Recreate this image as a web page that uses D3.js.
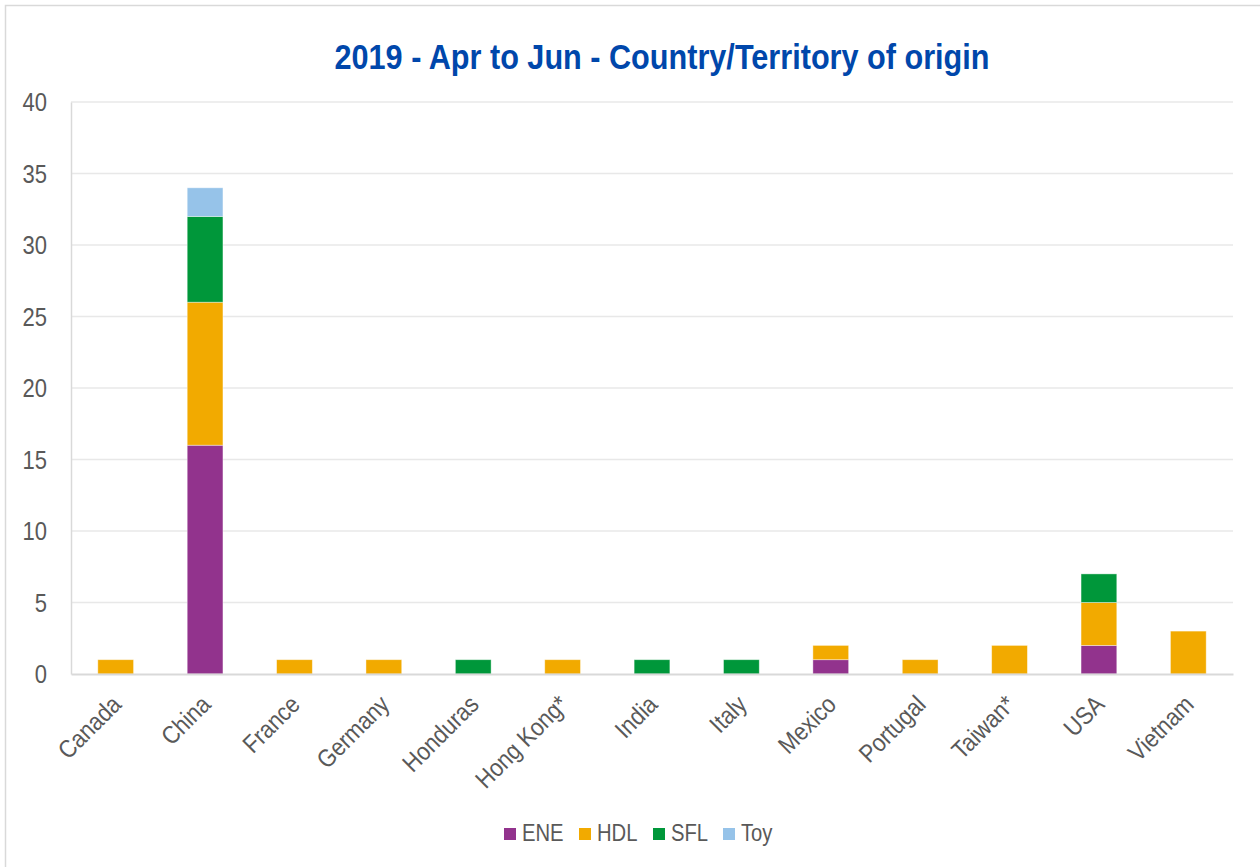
<!DOCTYPE html>
<html>
<head>
<meta charset="utf-8">
<script src="https://cdn.jsdelivr.net/npm/d3@7"></script>
<style>
  html, body { margin: 0; padding: 0; background: #fff; }
  svg { display: block; }
  text { font-family: "Liberation Sans Narrow", "Arial Narrow", "Liberation Sans", Arial, sans-serif; }
</style>
</head>
<body>
<svg id="chart" width="1260" height="867"></svg>
<script>
const title = "2019 - Apr to Jun - Country/Territory of origin";
const categories = ["Canada","China","France","Germany","Honduras","Hong Kong*","India","Italy","Mexico","Portugal","Taiwan*","USA","Vietnam"];
const seriesNames = ["ENE","HDL","SFL","Toy"];
const ENE = [0,16,0,0,0,0,0,0,1,0,0,2,0];
const HDL = [1,10,1,1,0,1,0,0,1,1,2,3,3];
const SFL = [0,6,0,0,1,0,1,1,0,0,0,2,0];
const Toy = [0,2,0,0,0,0,0,0,0,0,0,0,0];
const yTicks = [0,5,10,15,20,25,30,35,40];
const colors = {ENE:"#92338D", HDL:"#F2AA00", SFL:"#00973A", Toy:"#96C3E9"};

const seriesValues = {ENE, HDL, SFL, Toy};
const rows = categories.map((c,i) => {
  const r = {category:c};
  seriesNames.forEach(s => r[s] = seriesValues[s][i]);
  return r;
});

const svg = d3.select("#chart");
const W = 1260, H = 867;
const plot = {left:71, right:1233, top:102, bottom:674};
const narrow = 0.88; // emulate a narrow face

// outer chart border
svg.append("rect").attr("x",5.5).attr("y",5.5).attr("width",W+10).attr("height",H+10)
  .attr("fill","#fff").attr("stroke","#d9d9d9").attr("stroke-width",1.5);

const x = d3.scaleBand().domain(categories).range([plot.left, plot.right])
  .paddingInner(0.6).paddingOuter(0.3);
const y = d3.scaleLinear().domain([0,40]).range([plot.bottom, plot.top]);

// gridlines
svg.append("g").selectAll("line").data(yTicks.filter(t=>t>0)).join("line")
  .attr("x1",plot.left).attr("x2",plot.right)
  .attr("y1",d=>y(d)).attr("y2",d=>y(d))
  .attr("stroke","#e8e8e8").attr("stroke-width",1.5);

// y axis
const yAxis = d3.axisLeft(y).tickValues(yTicks).tickSize(0).tickPadding(0);
const yg = svg.append("g").attr("transform",`translate(${plot.left},0)`).call(yAxis);
yg.select(".domain").attr("stroke","#d9d9d9").attr("stroke-width",1.5);
yg.selectAll("text").attr("fill","#595959").style("font-size","25px")
  .attr("x",0).attr("dy","0.34em")
  .attr("transform",`translate(-24,0) scale(${narrow},1)`);

// stacked bars
const stack = d3.stack().keys(seriesNames)(rows);
svg.append("g").selectAll("g").data(stack).join("g")
  .attr("fill", d => colors[d.key])
  .selectAll("rect").data(d => d.filter(p => p[1] - p[0] > 0)).join("rect")
  .attr("x", d => x(d.data.category))
  .attr("width", x.bandwidth())
  .attr("y", d => y(d[1]))
  .attr("height", d => y(d[0]) - y(d[1]))
  .attr("stroke","rgba(255,255,255,0.5)").attr("stroke-width",0.8);

// x axis
const xAxis = d3.axisBottom(x).tickSize(0).tickPadding(0);
const xg = svg.append("g").attr("transform",`translate(0,${plot.bottom})`).call(xAxis);
xg.select(".domain").attr("stroke","#d9d9d9").attr("stroke-width",2);
xg.selectAll("text")
  .attr("fill","#595959").style("font-size","25px")
  .attr("text-anchor","end")
  .attr("dy","0")
  .attr("y",0)
  .attr("transform",`translate(7,32) rotate(-45) scale(${narrow},1)`);

// title
svg.append("text").attr("x",662).attr("y",69).attr("text-anchor","middle")
  .attr("fill","#0047AB").style("font-size","35px").style("font-weight","bold")
  .attr("textLength",655).attr("lengthAdjust","spacingAndGlyphs")
  .text(title);

// legend
const legendX = [504, 579, 653, 723];
const lg = svg.append("g").selectAll("g").data(seriesNames).join("g")
  .attr("transform",(d,i)=>`translate(${legendX[i]},828)`);
lg.append("rect").attr("width",12).attr("height",12).attr("fill",d=>colors[d]);
lg.append("text").attr("x",0).attr("y",0).attr("fill","#595959")
  .attr("transform",`translate(18,13) scale(${narrow},1)`)
  .style("font-size","23px").text(d=>d);
</script>
</body>
</html>
